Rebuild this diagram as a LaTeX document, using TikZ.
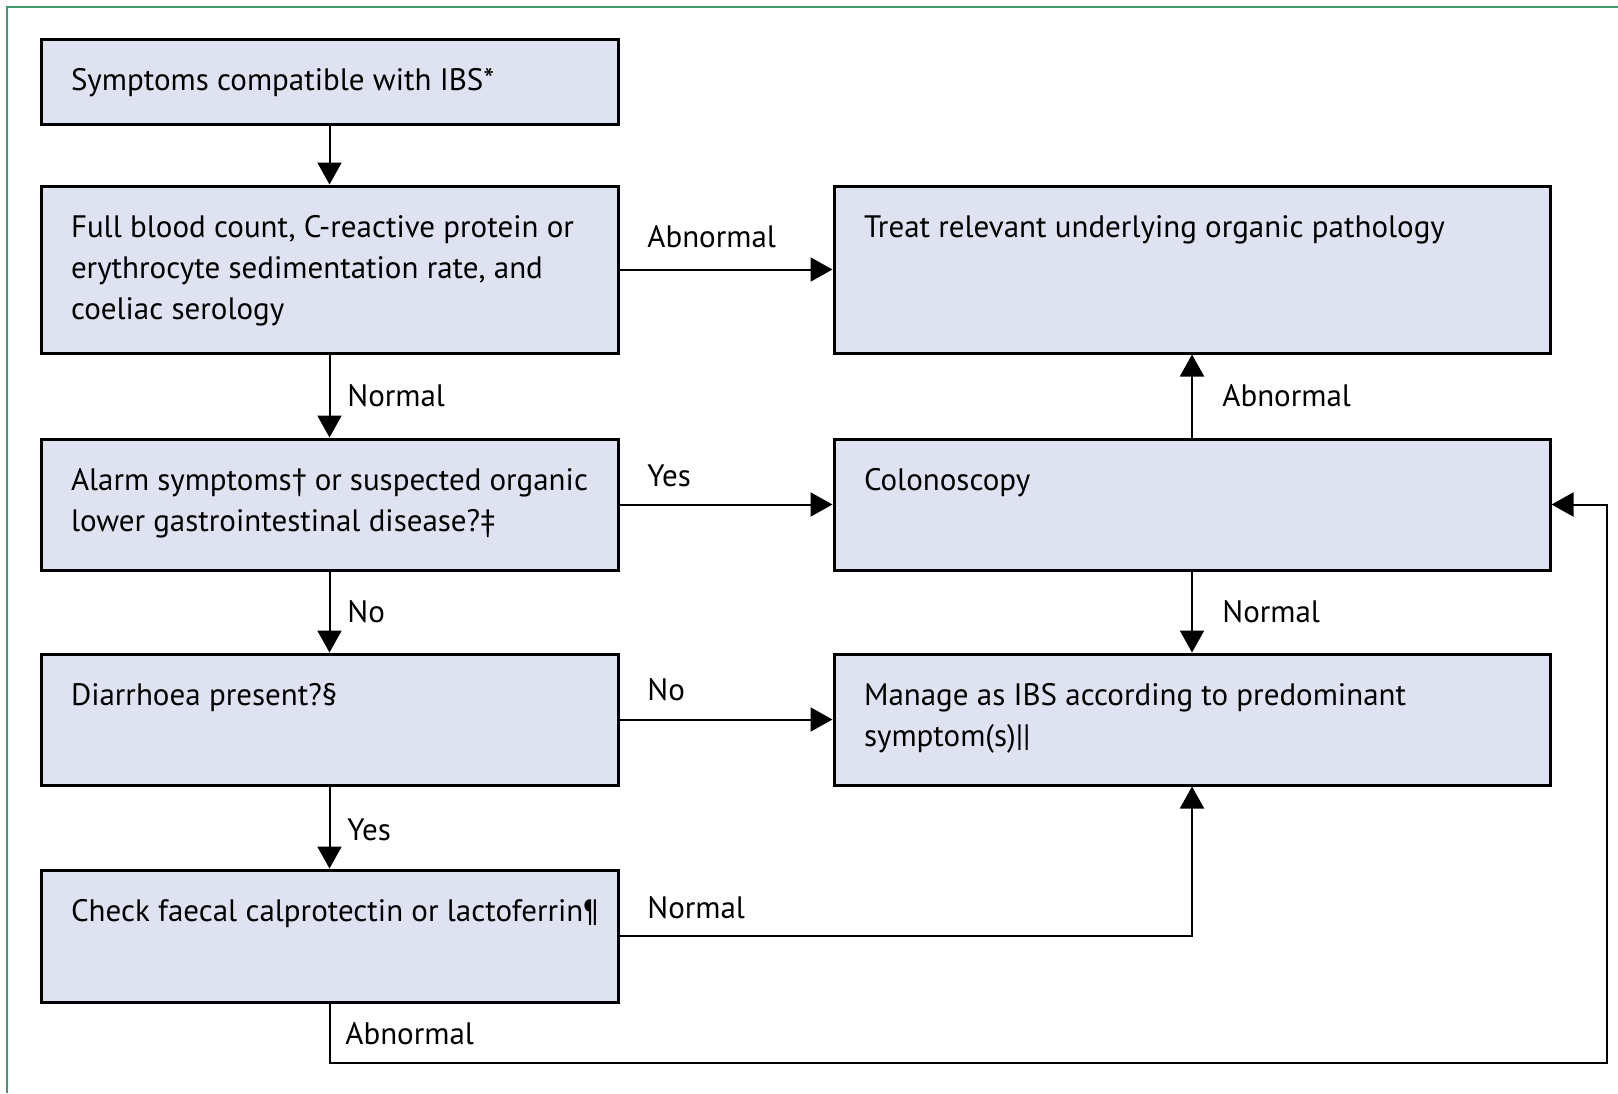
\documentclass[tikz,border=0pt]{standalone}
\usepackage{fontspec}
\setmainfont{PT Sans}
\usetikzlibrary{arrows.meta}
\definecolor{boxfill}{HTML}{DFE3F1}
\definecolor{framegreen}{HTML}{3C9A6C}
\newcommand{\flowfont}{\fontsize{15.5}{20.6}\selectfont}
\newcommand{\bx}[3]{\parbox[c][#2][t]{#1}{\flowfont\raggedright\rule{0pt}{25.5pt}#3}}
\begin{document}
\begin{tikzpicture}[x=0.5pt,y=-0.5pt,
  box/.style={draw, line width=1.5pt, fill=boxfill, inner ysep=0pt, inner xsep=15pt, anchor=center},
  conn/.style={line width=1pt, -{Triangle[length=11pt,width=12pt]}},
  lab/.style={anchor=base west, inner sep=0pt, font=\flowfont}]
\fill[white] (0,0) rectangle (1618,1093);
\useasboundingbox (0,0) rectangle (1618,1093);
\draw[framegreen, line width=1pt] (7,1093) -- (7,7) -- (1618,7);
% left column
\node[box] (b1) at (329.5,81.5) {\bx{258.5pt}{42.5pt}{Symptoms compatible with IBS*}};
\node[box] (b2) at (329.5,269.5) {\bx{258.5pt}{83.5pt}{Full blood count, C-reactive protein or\\ erythrocyte sedimentation rate, and\\ coeliac serology}};
\node[box] (b3) at (329.5,504.5) {\bx{258.5pt}{65.5pt}{Alarm symptoms† or suspected organic\\ lower gastrointestinal disease?‡}};
\node[box] (b4) at (329.5,719.5) {\bx{258.5pt}{65.5pt}{Diarrhoea present?§}};
\node[box] (b5) at (329.5,936) {\bx{258.5pt}{66pt}{\mbox{Check faecal calprotectin or lactoferrin¶}}};
% right column
\node[box] (t) at (1192,269.5) {\bx{328pt}{83.5pt}{Treat relevant underlying organic pathology}};
\node[box] (c) at (1192,504.5) {\bx{328pt}{65.5pt}{Colonoscopy}};
\node[box] (m) at (1192,719.5) {\bx{328pt}{65.5pt}{Manage as IBS according to predominant\\ symptom(s)||}};
\coordinate (lc) at (1607,1063);
% connectors
\draw[conn] (b1.south) -- (b2.north);
\draw[conn] (b2.east) -- (t.west);
\draw[conn] (b2.south) -- (b3.north);
\draw[conn] (b3.east) -- (c.west);
\draw[conn] (c.north) -- (t.south);
\draw[conn] (c.south) -- (m.north);
\draw[conn] (b3.south) -- (b4.north);
\draw[conn] (b4.east) -- (m.west);
\draw[conn] (b4.south) -- (b5.north);
\draw[conn] (b5.east) -| (m.south);
\draw[conn] (b5.south) |- (lc) |- (c.east);
% labels
\node[lab] (l1) at (647,247) {Abnormal};
\node[lab] (l2) at (347,406) {Normal};
\node[lab] (l3) at (647,486) {Yes};
\node[lab] (l4) at (1222,406) {Abnormal};
\node[lab] (l5) at (347,622) {No};
\node[lab] (l6) at (1222,622) {Normal};
\node[lab] (l7) at (647,700) {No};
\node[lab] (l8) at (347,840) {Yes};
\node[lab] (l9) at (647,918) {Normal};
\node[lab] (l10) at (345,1044) {Abnormal};
\end{tikzpicture}
\end{document}
